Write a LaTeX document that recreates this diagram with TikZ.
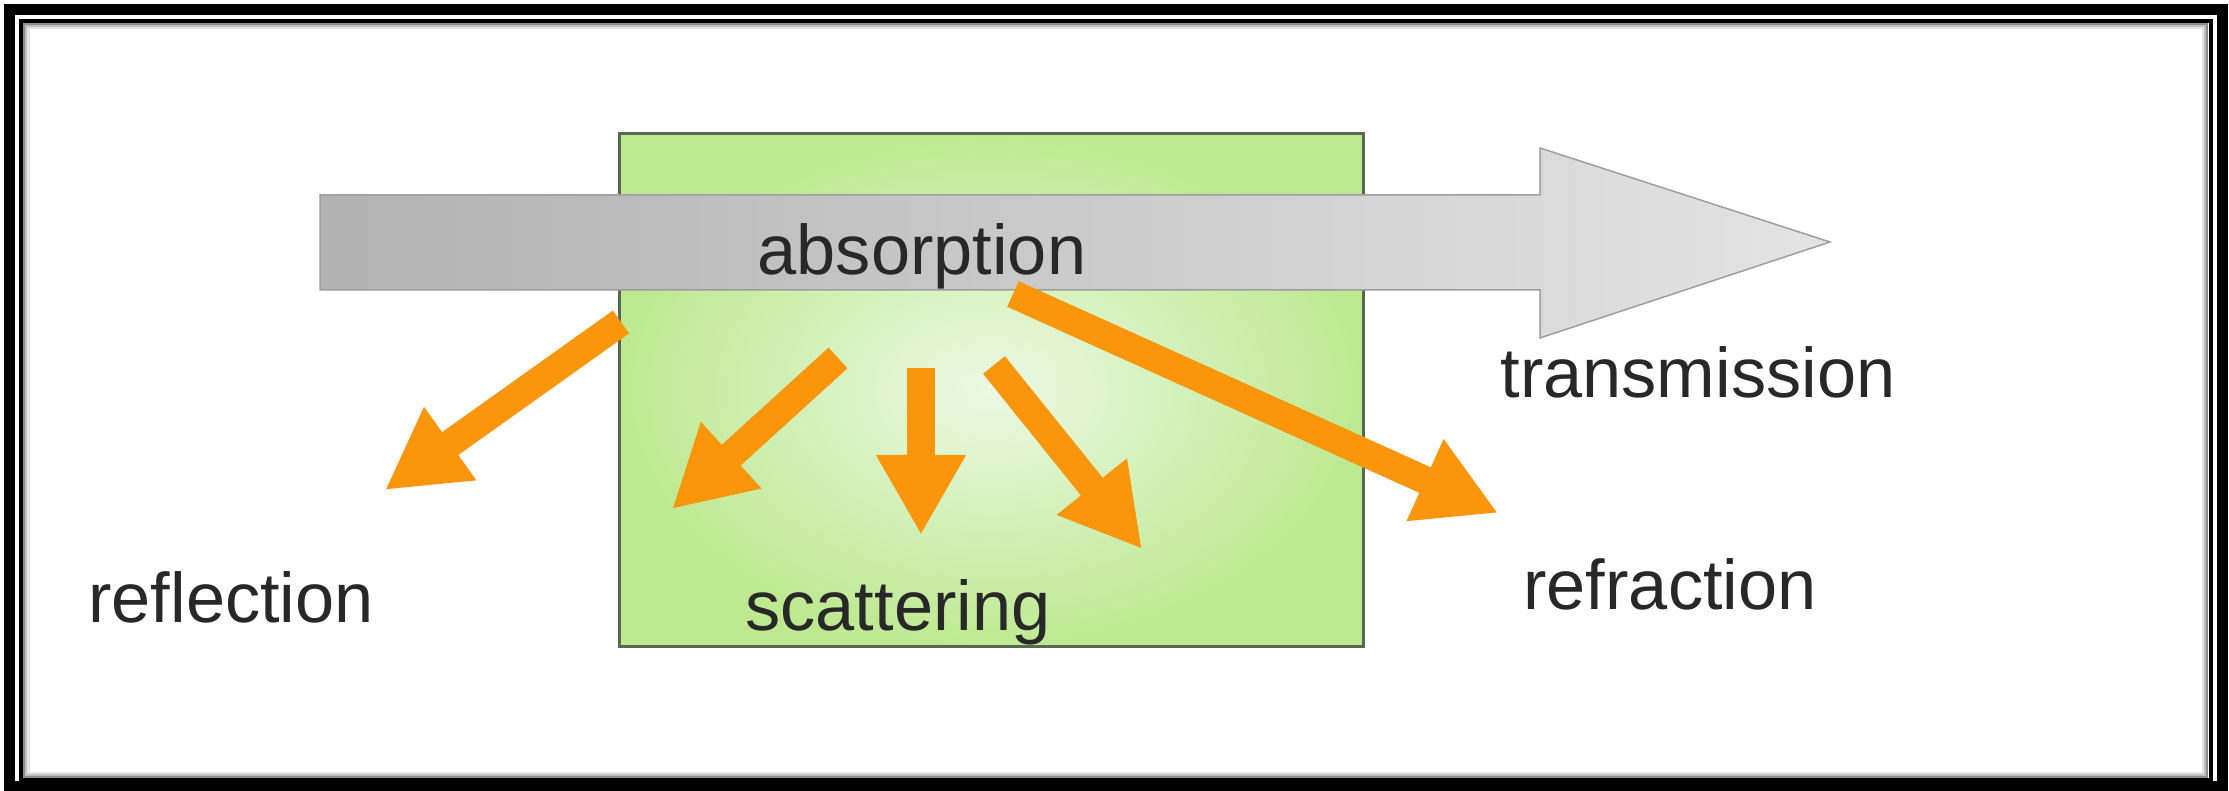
\documentclass[tikz,border=0pt]{standalone}
\usepackage{fontspec}
\setmainfont{Liberation Sans}
\usepackage{xcolor}
\usepackage{tikz}
\usetikzlibrary{arrows.meta, positioning}

\definecolor{beamdark}{RGB}{178,178,178}
\definecolor{beamlight}{RGB}{228,228,228}
\definecolor{beamedge}{RGB}{158,158,158}
\definecolor{slabedge}{RGB}{190,233,145}
\definecolor{slabcore}{RGB}{236,249,228}
\definecolor{slabline}{RGB}{88,104,82}
\definecolor{raycol}{RGB}{250,150,12}
\definecolor{wordcol}{RGB}{40,40,40}

\begin{document}
\begin{tikzpicture}[
  x=0.01cm, y=-0.01cm,
  word/.style={font=\fontsize{20pt}{24pt}\selectfont, text=wordcol, anchor=base, inner sep=0pt},
  slab/.style={rectangle, draw=slabline, line width=0.03cm, inner color=slabcore, outer color=slabedge, minimum width=7.43cm, minimum height=5.12cm},
  ray/.style={draw=raycol, line width=0.28cm, -{Triangle[width=0.84cm, length=0.8cm]}}
]
\useasboundingbox (0,0) rectangle (2229,791);
\fill[white] (0,0) rectangle (2229,791);

% frame
\draw[line width=0.11cm] (9.5,9.5) rectangle (2222.5,786.5);
\draw[line width=0.04cm] (21,21) rectangle (2210.5,779.5);
\foreach \d/\c in {24.5/45,26.5/25,28.5/10}
  \draw[black!\c, line width=0.02cm] (\d,\d) rectangle (2231-\d,801-\d);

% medium
\node[slab] (medium) at (991.5,390) {};

% incoming beam
\path[shade, left color=beamdark, right color=beamlight, draw=beamedge, line width=0.015cm]
  (320,195) -- (1540,195) -- (1540,148) -- (1830,242) -- (1540,338) -- (1540,290) -- (320,290) -- cycle;

\node[word] (absorption) at (922,275) {absorption};
\node[word] (transmission) at (1698,397) {transmission};
\node[word] (reflection) at (231,622) {reflection};
\node[word] (scattering) at (898,630) {scattering};
\node[word] (refraction) at (1670,610) {refraction};

% ray ends
\coordinate (refl-a) at (621,322);
\coordinate (refl-b) at (385,490);
\coordinate (scat1-a) at (838,358);
\coordinate (scat1-b) at (672,509);
\coordinate (scat2-a) at (921,368);
\coordinate (scat2-b) at (921,535);
\coordinate (scat3-a) at (994,365);
\coordinate (scat3-b) at (1142,549);
\coordinate (refr-a) at (1013,294);
\coordinate (refr-b) at (1498,513);

\draw[ray] (refl-a) -- (refl-b);
\draw[ray] (scat1-a) -- (scat1-b);
\draw[ray] (scat2-a) -- (scat2-b);
\draw[ray] (scat3-a) -- (scat3-b);
\draw[ray] (refr-a) -- (refr-b);

\end{tikzpicture}
\end{document}
